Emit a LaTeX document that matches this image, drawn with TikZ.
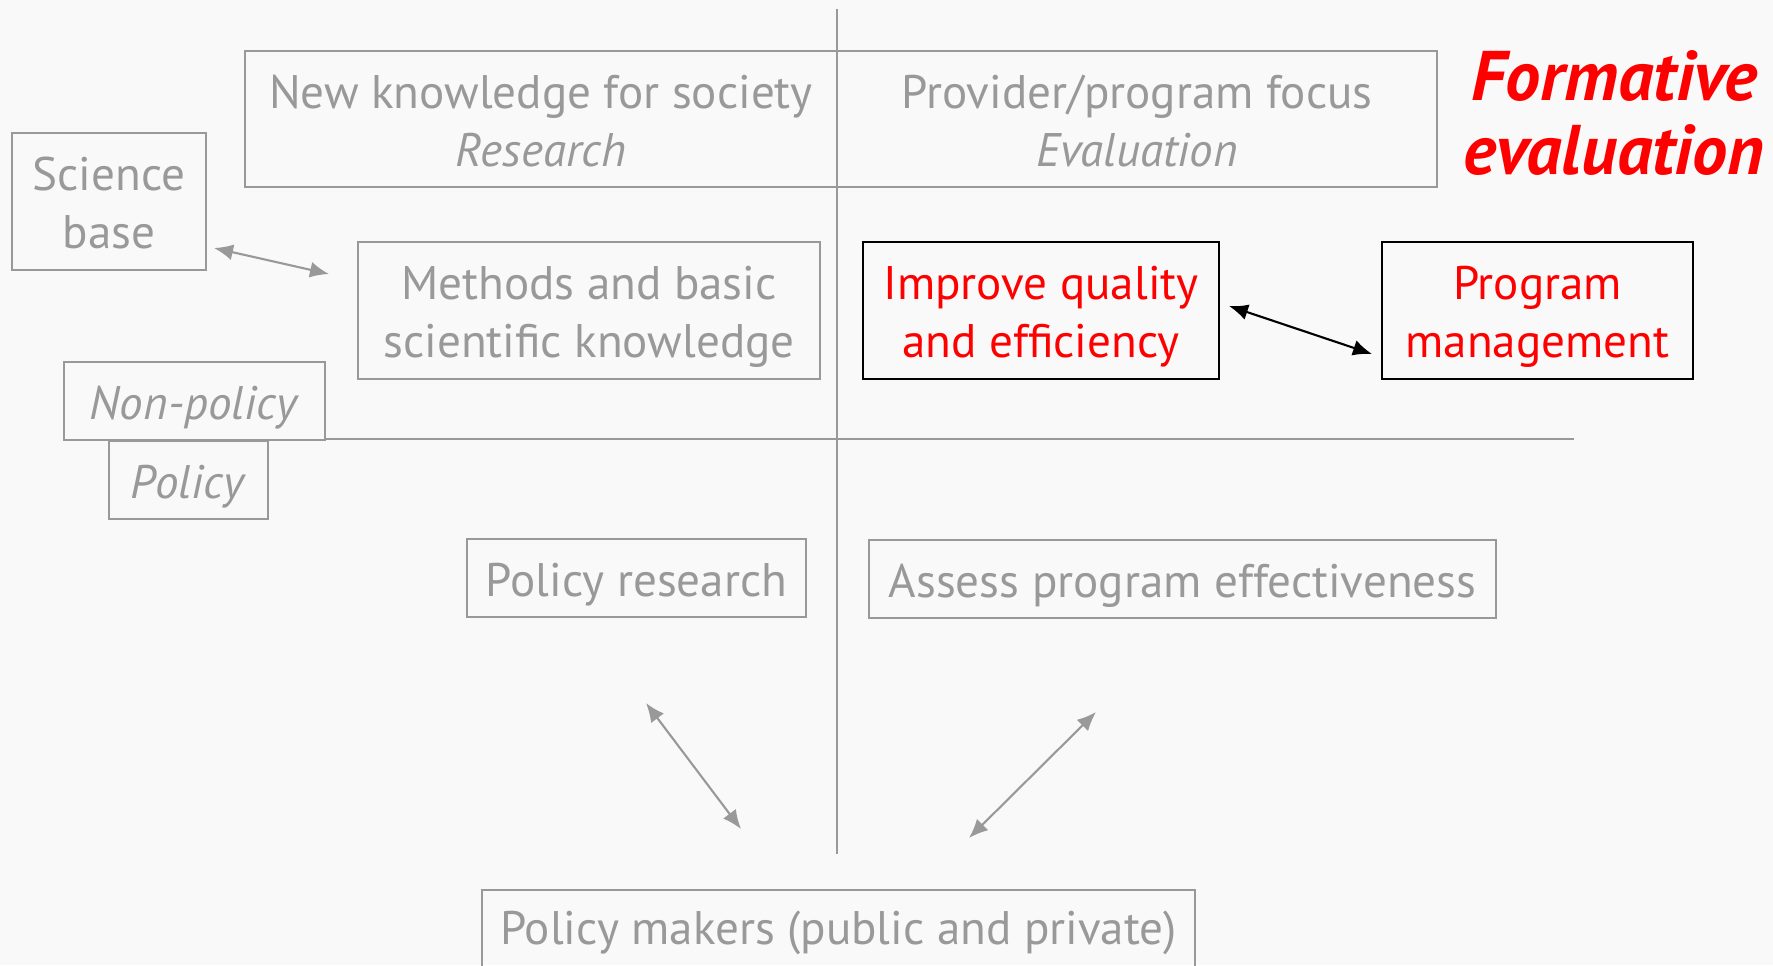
\documentclass[tikz,border=0pt]{standalone}
\usepackage{fontspec}
\setmainfont{PT Sans}
\usetikzlibrary{arrows.meta}
\definecolor{grau}{HTML}{999999}
\definecolor{hgrund}{HTML}{F9F9F9}
\newcommand{\Stuetze}{\rule[-7.2pt]{0pt}{35.2pt}}

\begin{document}
\begin{tikzpicture}[x=0.02cm, y=-0.02cm,
    font=\fontsize{26.8}{33}\selectfont,
    >={Latex[length=3.8mm,width=3.2mm]} % Pfeilspitzen
    ]
        \tikzset{
            Kasten/.style={draw=grau, line width=1.1pt, text=grau, align=center, inner sep=0pt,
                execute at end node=\Stuetze},
            RKasten/.style={Kasten, draw=black, text=red},
            Pfeil/.style={<->, line width=1.2pt, grau}, % graue Doppelpfeile
            SPfeil/.style={Pfeil, black} % schwarzer Doppelpfeil
        }

        % Hintergrund
        \fill[hgrund] (0,0) rectangle (1773,965);
        \useasboundingbox (0,0) rectangle (1773,965);

        % Achsen
        \draw[grau, line width=1.1pt] (837,9) -- (837,854)
                                      (324,439) -- (1574,439);

        % Kaesten
        \node[Kasten, minimum width=11.84cm, minimum height=2.72cm] (know) at (541,119)
            {\Stuetze New knowledge for society\\\textit{Research}};
        \node[Kasten, minimum width=12cm, minimum height=2.72cm] (focus) at (1137,119)
            {\Stuetze Provider/program focus\\\textit{Evaluation}};
        \node[Kasten, minimum width=3.88cm, minimum height=2.74cm] (sci) at (109,201.5)
            {\Stuetze Science\\base};
        \node[Kasten, minimum width=9.24cm, minimum height=2.74cm] (meth) at (589,310.5)
            {\Stuetze Methods and basic\\scientific knowledge};
        \node[RKasten, minimum width=7.12cm, minimum height=2.74cm] (impr) at (1041,310.5)
            {\Stuetze Improve quality\\and efficiency};
        \node[RKasten, minimum width=6.22cm, minimum height=2.74cm] (prog) at (1537.5,310.5)
            {\Stuetze Program\\management};
        \node[Kasten, minimum width=5.22cm, minimum height=1.56cm] (nonpol) at (194.5,401)
            {\Stuetze\textit{Non-policy}};
        \node[Kasten, minimum width=3.18cm, minimum height=1.56cm] (pol) at (188.5,480)
            {\Stuetze\textit{Policy}};
        \node[Kasten, minimum width=6.78cm, minimum height=1.56cm] (polres) at (636.5,578)
            {\Stuetze Policy research};
        \node[Kasten, minimum width=12.54cm, minimum height=1.56cm] (assess) at (1182.5,579)
            {\Stuetze Assess program effectiveness};
        \node[Kasten, minimum width=14.26cm, minimum height=1.8cm,
            execute at end node={\rule[-17pt]{0pt}{45pt}}] (makers) at (838.5,935)
            {\Stuetze Policy makers (public and private)};

        \node[text=red, align=center, font=\fontsize{40}{42}\selectfont\bfseries\itshape]
            (form) at (1614,113) {Formative\\evaluation};

        % Pfeilenden
        \coordinate (sci-e)    at (214,248);
        \coordinate (meth-e)   at (329,274);
        \coordinate (impr-e)   at (1229,306);
        \coordinate (prog-e)   at (1372,354);
        \coordinate (polres-e) at (646,703);
        \coordinate (makers-l) at (741,829);
        \coordinate (assess-e) at (1096,712);
        \coordinate (makers-r) at (969,838);

        % Pfeile
        \draw[Pfeil]  (sci-e) -- (meth-e);
        \draw[SPfeil] (impr-e) -- (prog-e);
        \draw[Pfeil]  (polres-e) -- (makers-l);
        \draw[Pfeil]  (assess-e) -- (makers-r);
    \end{tikzpicture}
\end{document}
